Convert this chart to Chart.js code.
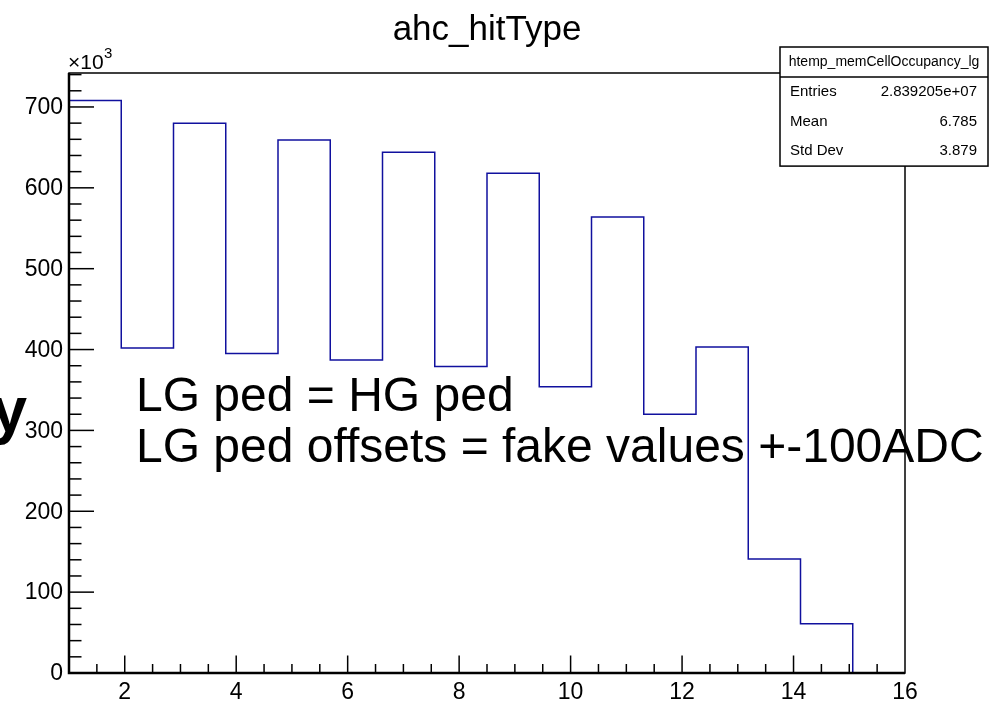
<!DOCTYPE html>
<html>
<head>
<meta charset="utf-8">
<script src="https://cdn.jsdelivr.net/npm/chart.js@4.4.1/dist/chart.umd.min.js"></script>
<style>
  html, body { margin: 0; padding: 0; background: #fff; }
  canvas { display: block; }
</style>
</head>
<body>
<canvas id="histChart" width="1006" height="701"></canvas>
<script>
// histogram binning and contents (entries in units of 10^3)
const xMin = 1;
const xMax = 16;
const nBins = 16;
const binValues = [708, 402, 680, 395, 659, 387, 644, 379, 618, 354, 564, 320, 403, 141, 61, 0];
const yMax = 742;

const yTickLabels = [0, 100, 200, 300, 400, 500, 600, 700];
const xTickLabels = [2, 4, 6, 8, 10, 12, 14, 16];

const titleText = 'ahc_hitType';
const statsName = 'htemp_memCellOccupancy_lg';
const statsRows = [['Entries', '2.839205e+07'], ['Mean', '6.785'], ['Std Dev', '3.879']];
const noteLines = ['LG ped = HG ped', 'LG ped offsets = fake values +-100ADC'];

const FONT = '"Liberation Sans", Arial, Helvetica, sans-serif';

// build step points: one per lower bin edge, plus the last upper edge
const binWidth = (xMax - xMin) / nBins;
const stepPoints = binValues.map((v, i) => ({ x: xMin + i * binWidth, y: v }));
stepPoints.push({ x: xMax, y: binValues[nBins - 1] });

// ROOT-like frame, inward ticks, labels and boxes
const rootStyle = {
  id: 'rootStyle',
  afterDraw(chart) {
    const ctx = chart.ctx;
    const area = chart.chartArea;
    const xs = chart.scales.x;
    const ys = chart.scales.y;

    ctx.save();
    ctx.strokeStyle = '#000';
    ctx.fillStyle = '#000';

    // frame
    ctx.lineWidth = 1.5;
    ctx.strokeRect(area.left, area.top, area.right - area.left, area.bottom - area.top);
    ctx.lineWidth = 2.5;
    ctx.beginPath();
    ctx.moveTo(area.left, area.top);
    ctx.lineTo(area.left, area.bottom);
    ctx.lineTo(area.right, area.bottom);
    ctx.stroke();

    // y ticks
    ctx.lineWidth = 1.5;
    for (let v = 0; v <= yMax; v += 20) {
      const py = ys.getPixelForValue(v);
      const len = (v % 100 === 0) ? 25 : 12.5;
      ctx.beginPath();
      ctx.moveTo(area.left, py);
      ctx.lineTo(area.left + len, py);
      ctx.stroke();
    }
    // x ticks
    for (let v = xMin + 0.5; v < xMax; v += 0.5) {
      const px = xs.getPixelForValue(v);
      const len = (v % 2 === 0) ? 17.5 : 9;
      ctx.beginPath();
      ctx.moveTo(px, area.bottom);
      ctx.lineTo(px, area.bottom - len);
      ctx.stroke();
    }

    // tick labels
    ctx.font = '23px ' + FONT;
    ctx.textAlign = 'right';
    ctx.textBaseline = 'middle';
    yTickLabels.forEach(v => {
      ctx.fillText(String(v), area.left - 6, ys.getPixelForValue(v) + 1);
    });
    ctx.textAlign = 'center';
    ctx.textBaseline = 'top';
    xTickLabels.forEach(v => {
      ctx.fillText(String(v), xs.getPixelForValue(v), area.bottom + 8);
    });

    // exponent
    ctx.textAlign = 'left';
    ctx.textBaseline = 'alphabetic';
    ctx.font = '21px ' + FONT;
    ctx.fillText('\u00d710', area.left - 1, 69);
    ctx.font = '15px ' + FONT;
    ctx.fillText('3', area.left + 35, 58);

    // clipped y axis title
    ctx.font = 'bold 64px ' + FONT;
    ctx.textAlign = 'right';
    ctx.fillText('y', 27, 432);

    // title
    ctx.font = '35px ' + FONT;
    ctx.textAlign = 'center';
    ctx.textBaseline = 'middle';
    ctx.fillText(titleText, 487, 30);

    // annotation
    ctx.font = '48px ' + FONT;
    ctx.textAlign = 'left';
    ctx.textBaseline = 'alphabetic';
    noteLines.forEach((t, i) => ctx.fillText(t, 136, 411 + i * 51));

    // stats box
    const bx = 780, by = 47, bw = 208, hh = 30, rh = 29.7;
    const bh = hh + rh * statsRows.length;
    ctx.fillStyle = '#fff';
    ctx.fillRect(bx, by, bw, bh);
    ctx.lineWidth = 1.5;
    ctx.strokeRect(bx, by, bw, bh);
    ctx.beginPath();
    ctx.moveTo(bx, by + hh);
    ctx.lineTo(bx + bw, by + hh);
    ctx.stroke();
    ctx.fillStyle = '#000';
    ctx.font = '14px ' + FONT;
    ctx.textAlign = 'center';
    ctx.textBaseline = 'middle';
    ctx.fillText(statsName, bx + bw / 2, by + hh / 2);
    ctx.font = '15px ' + FONT;
    statsRows.forEach((r, i) => {
      const cy = by + hh + rh * i + rh / 2;
      ctx.textAlign = 'left';
      ctx.fillText(r[0], bx + 10, cy);
      ctx.textAlign = 'right';
      ctx.fillText(r[1], bx + bw - 11, cy);
    });

    ctx.restore();
  }
};

const histChart = new Chart(document.getElementById('histChart').getContext('2d'), {
  type: 'line',
  data: {
    datasets: [{
      data: stepPoints,
      stepped: 'before',
      borderColor: '#10109e',
      borderWidth: 1.5,
      pointRadius: 0,
      fill: false
    }]
  },
  options: {
    responsive: false,
    animation: false,
    devicePixelRatio: 1,
    layout: { padding: { left: 69, right: 101, top: 73, bottom: 28 } },
    plugins: {
      legend: { display: false },
      tooltip: { enabled: false }
    },
    scales: {
      x: { type: 'linear', min: xMin, max: xMax, display: false },
      y: { type: 'linear', min: 0, max: yMax, display: false }
    }
  },
  plugins: [rootStyle]
});
</script>
</body>
</html>
